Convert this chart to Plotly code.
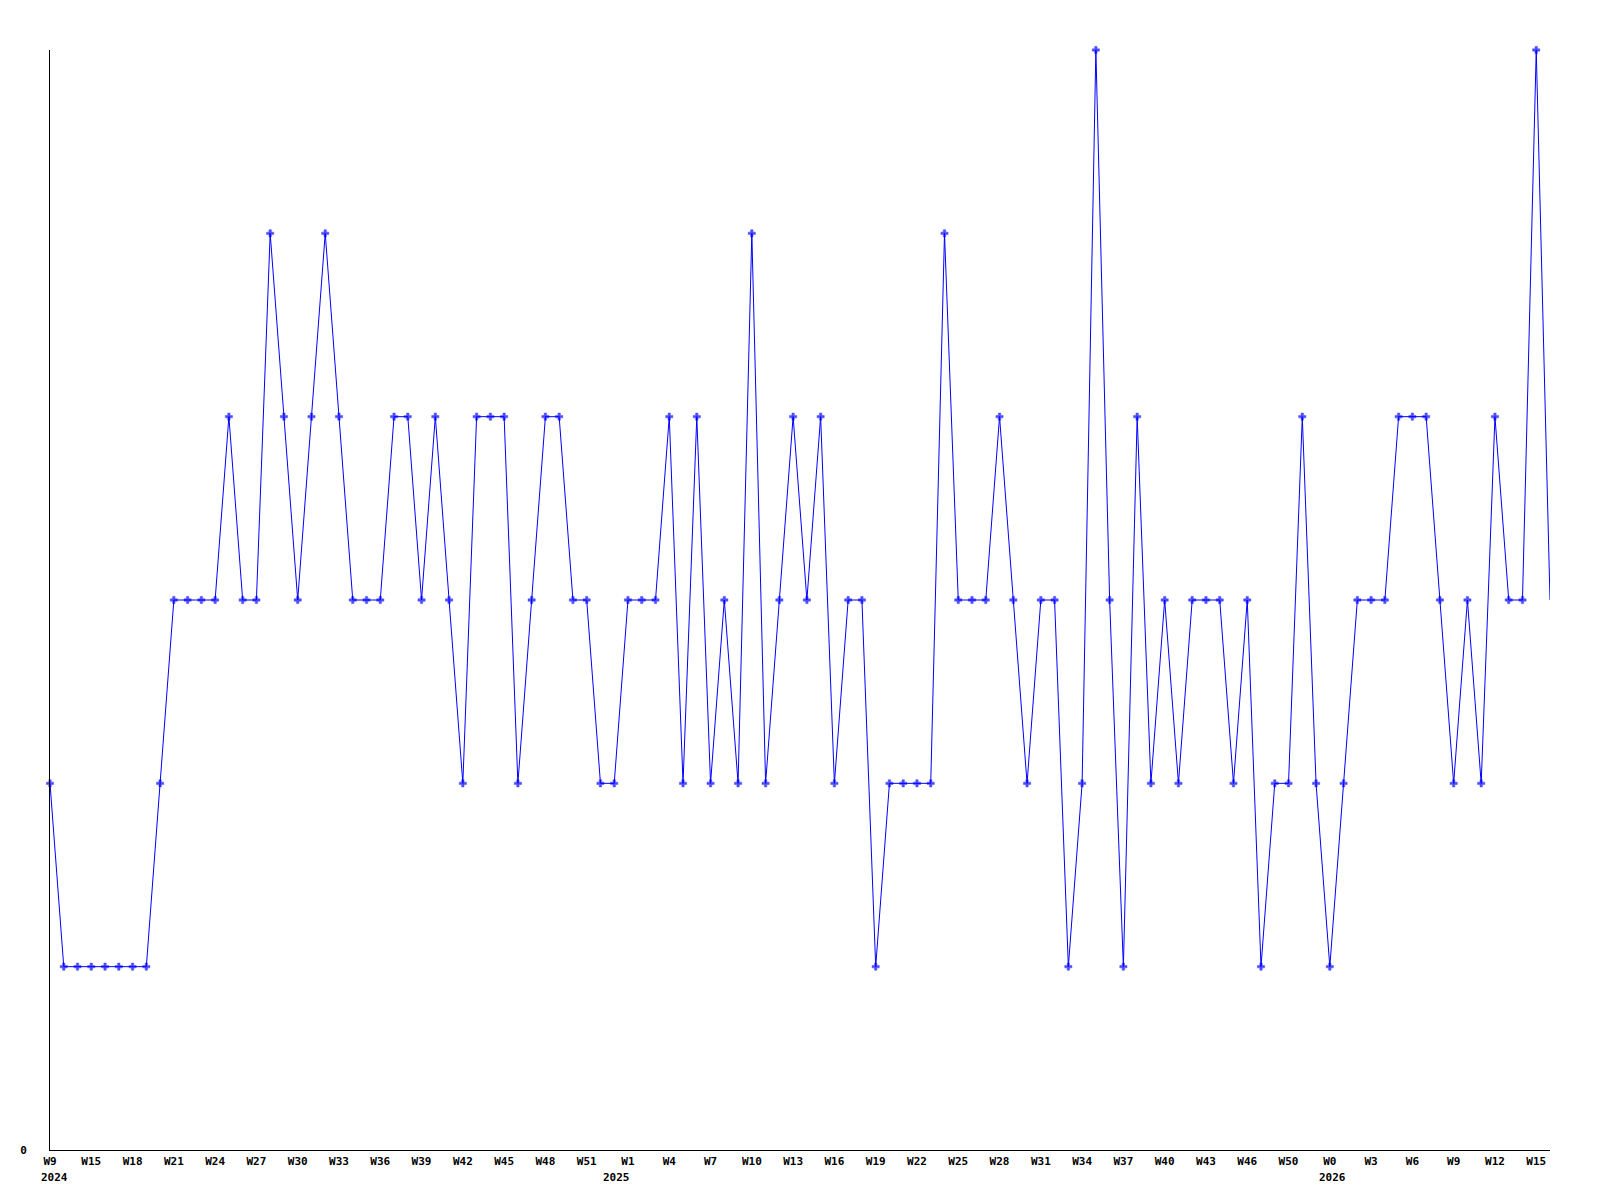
import plotly.graph_objects as go

# Weekly values (one per week, 110 points)
values = [
    2, 1, 1, 1, 1, 1, 1, 1, 2, 3,
    3, 3, 3, 4, 3, 3, 5, 4, 3, 4,
    5, 4, 3, 3, 3, 4, 4, 3, 4, 3,
    2, 4, 4, 4, 2, 3, 4, 4, 3, 3,
    2, 2, 3, 3, 3, 4, 2, 4, 2, 3,
    2, 5, 2, 3, 4, 3, 4, 2, 3, 3,
    1, 2, 2, 2, 2, 5, 3, 3, 3, 4,
    3, 2, 3, 3, 1, 2, 6, 3, 1, 4,
    2, 3, 2, 3, 3, 3, 2, 3, 1, 2,
    2, 4, 2, 1, 2, 3, 3, 3, 4, 4,
    4, 3, 2, 3, 2, 4, 3, 3, 6, 3,
]

# Tick labels (one every third point)
week_labels = ["W9", "W15", "W18", "W21", "W24", "W27", "W30", "W33", "W36",
               "W39", "W42", "W45", "W48", "W51", "W1", "W4", "W7", "W10",
               "W13", "W16", "W19", "W22", "W25", "W28", "W31", "W34", "W37",
               "W40", "W43", "W46", "W50", "W0", "W3", "W6", "W9", "W12", "W15"]
year_labels = ["2024", "2025", "2026"]
year_label_at = ["W9", "W1", "W0"]  # first occurrence of these week labels
year_xshift = [4, -11, 3]

TICK_STEP = 3
x = list(range(len(values)))
tickvals = [i * TICK_STEP for i in range(len(week_labels))]

marker_sizes = [6] * (len(values) - 1) + [0]

FONT = dict(family="DejaVu Sans Mono", size=11, color="black", weight="bold")

fig = go.Figure()
fig.add_trace(go.Scatter(
    x=x, y=values, mode="lines+markers",
    line=dict(color="#0000ff", width=1),
    marker=dict(symbol="cross", size=marker_sizes, color="#0000ff",
                line=dict(width=0.5, color="#0000ff")),
    cliponaxis=False, showlegend=False,
))

annotations = []
for yl, wl, xs in zip(year_labels, year_label_at, year_xshift):
    idx = week_labels.index(wl)
    annotations.append(dict(
        x=tickvals[idx], y=0, xref="x", yref="paper",
        text=yl, showarrow=False, xanchor="center", yanchor="top",
        xshift=xs, yshift=-19, font=FONT,
    ))

fig.update_layout(
    width=1584, height=1184,
    margin=dict(l=42, r=42, t=42, b=42),
    paper_bgcolor="white", plot_bgcolor="white",
    font=FONT,
    annotations=annotations,
    xaxis=dict(
        range=[0, len(values) - 1],
        tickmode="array", tickvals=tickvals, ticktext=week_labels,
        showline=True, linecolor="black", linewidth=1,
        showgrid=False, zeroline=False, ticks="",
        tickangle=0, tickfont=FONT, ticklabelstandoff=1,
    ),
    yaxis=dict(
        range=[0, 6],
        tickmode="array", tickvals=[0], ticktext=["0"],
        showline=True, linecolor="black", linewidth=1,
        showgrid=False, zeroline=False, ticks="",
        ticklabelstandoff=20, tickfont=FONT,
    ),
)

fig.write_html("out.html")
